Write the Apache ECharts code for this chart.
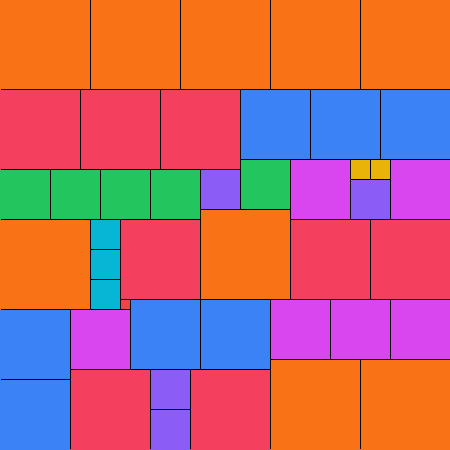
<!DOCTYPE html>
<html><head><meta charset="utf-8">
<script src="https://cdn.jsdelivr.net/npm/echarts@6/dist/echarts.min.js"></script>
<style>html,body{margin:0;padding:0;background:#fff}#c{width:450px;height:450px}</style>
</head><body><div id="c"></div>
<script>
// Partridge-style square tiling of a 45x45 board (units of 10px)
const sizes = [9,9,9,9,9,9,9,9,9, 8,8,8,8,8,8,8,8, 7,7,7,7,7,7,7, 6,6,6,6,6,6, 5,5,5,5,5, 4,4,4,4, 3,3,3, 2,2, 1];
const xs    = [0,9,18,27,36,0,20,27,36, 0,8,16,12,29,37,7,19, 24,31,38,0,0,13,20, 29,39,7,27,33,39, 0,5,10,15,24, 20,35,15,15, 9,9,9, 35,37, 12];
const ys    = [0,0,0,0,0,22,21,36,36, 9,9,9,22,22,22,37,37, 9,9,9,31,38,30,30, 16,16,31,30,30,30, 17,17,17,17,16, 17,18,37,41, 22,25,28, 16,16, 30];
const sizeColors = {9:'#F97316',8:'#F43F5E',7:'#3B82F6',6:'#D946EF',5:'#22C55E',4:'#8B5CF6',3:'#06B6D4',2:'#EAB308',1:'#EF4444'};
const boardSize = 45;

const data = sizes.map((s,i)=>[xs[i], ys[i], s]);
const chart = echarts.init(document.getElementById('c'), null, {renderer:'canvas'});
chart.setOption({
  animation:false,
  grid:{left:0,right:0,top:0,bottom:0},
  xAxis:{type:'value',min:0,max:boardSize,show:false},
  yAxis:{type:'value',min:0,max:boardSize,inverse:true,show:false},
  series:[{
    type:'custom',
    data:data,
    renderItem:function(params, api){
      const x=api.value(0), y=api.value(1), s=api.value(2);
      const p0=api.coord([x,y]), p1=api.coord([x+s,y+s]);
      const w=p1[0]-p0[0], h=p1[1]-p0[1];
      const cs=params.coordSys;
      return {
        type:'group',
        children:[
          {type:'rect',shape:{x:p0[0],y:p0[1],width:w,height:h},style:{fill:sizeColors[s]}},
          {type:'rect',shape:{x:p0[0]+0.5,y:p0[1]-0.5,width:w,height:h},
           style:{fill:null,stroke:'#000',lineWidth:1},
           clipPath:{type:'rect',shape:{x:cs.x+1,y:cs.y,width:cs.width-1,height:cs.height-1}}}
        ]
      };
    }
  }]
});
</script></body></html>
